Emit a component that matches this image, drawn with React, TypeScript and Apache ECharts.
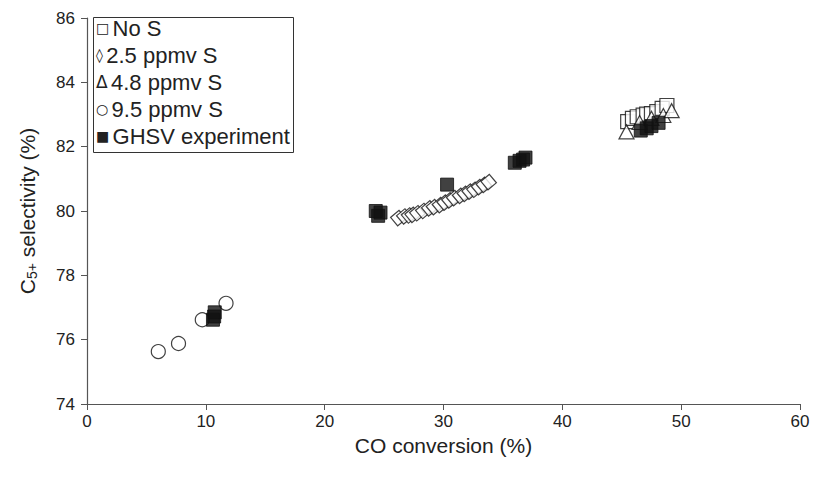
import React, { useEffect, useRef } from "react";
import * as echarts from "echarts";

// CO conversion (%) vs C5+ selectivity (%) for each sulfur level
const noS: number[][] = [
  [45.5, 82.78], [45.9, 82.88], [46.3, 82.93], [46.8, 82.98], [47.1, 83.01],
  [47.5, 83.03], [47.95, 83.09], [48.4, 83.19], [48.8, 83.28],
];
const ppmv25: number[][] = [
  [26.2, 79.78], [26.7, 79.83], [27.1, 79.86], [27.4, 79.88], [27.8, 79.93],
  [28.3, 80.0], [28.8, 80.08], [29.2, 80.12], [29.7, 80.18], [30.1, 80.26],
  [30.5, 80.33], [30.9, 80.4], [31.4, 80.47], [31.8, 80.53], [32.2, 80.6],
  [32.6, 80.66], [33.0, 80.74], [33.4, 80.81], [33.8, 80.9],
];
const ppmv48: number[][] = [
  [45.4, 82.46], [46.5, 82.75], [47.5, 82.88], [48.5, 82.97], [49.2, 83.12],
];
const ppmv95: number[][] = [
  [6.0, 75.63], [7.7, 75.88], [9.7, 76.62], [11.7, 77.13],
];
const ghsv: number[][] = [
  [10.6, 76.62], [10.7, 76.72], [10.75, 76.85],
  [24.3, 80.0], [24.5, 79.85], [24.7, 79.95],
  [30.3, 80.82],
  [36.0, 81.5], [36.4, 81.56], [36.7, 81.6], [36.9, 81.66],
  [46.6, 82.5], [47.1, 82.57], [47.5, 82.64], [48.1, 82.74],
];

const legendSymbols: string[] = ["\u25A1", "\u25CA", "\u0394", "\u25CB", "\u25A0"];
const legendLabels: string[] = [
  "No S",
  "2.5 ppmv S",
  "4.8 ppmv S",
  "9.5 ppmv S",
  "GHSV experiment",
];

const FONT = "Liberation Sans, Arial, sans-serif";
const AXIS_COLOR = "#555";
const TEXT_COLOR = "#222";

export default function App() {
  const ref = useRef<HTMLDivElement>(null);

  useEffect(() => {
    if (!ref.current) return;
    const chart = echarts.init(ref.current, undefined, { renderer: "svg" });

    const hollow = {
      color: "#fff",
      borderColor: "#111",
      borderWidth: 1.2,
    };

    chart.setOption({
      animation: false,
      backgroundColor: "#fff",
      grid: { left: 87, right: 13, top: 18, bottom: 75, outerBoundsMode: "none", containLabel: false },
      xAxis: {
        type: "value",
        min: 0,
        max: 60,
        interval: 10,
        name: "CO conversion (%)",
        nameLocation: "middle",
        nameGap: 28,
        nameTextStyle: { fontFamily: FONT, fontSize: 21, color: TEXT_COLOR },
        axisLine: { show: true, lineStyle: { color: AXIS_COLOR, width: 1.2 } },
        axisTick: { show: true, length: 6, lineStyle: { color: AXIS_COLOR } },
        axisLabel: { fontFamily: FONT, fontSize: 17, color: TEXT_COLOR, margin: 9 },
        splitLine: { show: false },
      },
      yAxis: {
        type: "value",
        min: 74,
        max: 86,
        interval: 2,
        name: "{c|C}{s|5+}{c| selectivity (%)}",
        nameLocation: "middle",
        nameRotate: 90,
        nameGap: 48,
        nameTextStyle: {
          rich: {
            c: { fontFamily: FONT, fontSize: 21, color: TEXT_COLOR },
            s: { fontFamily: FONT, fontSize: 14, color: TEXT_COLOR, verticalAlign: "bottom", padding: [9, 0, 0, 0] },
          },
        },
        axisLine: { show: true, lineStyle: { color: AXIS_COLOR, width: 1.2 } },
        axisTick: { show: true, length: 6, lineStyle: { color: AXIS_COLOR } },
        axisLabel: { fontFamily: FONT, fontSize: 17, color: TEXT_COLOR, margin: 12 },
        splitLine: { show: false },
      },
      series: [
        {
          name: "No S",
          type: "scatter",
          data: noS,
          symbol: "rect",
          symbolSize: 14,
          itemStyle: hollow,
        },
        {
          name: "4.8 ppmv S",
          type: "scatter",
          data: ppmv48,
          symbol: "triangle",
          symbolSize: [15, 14],
          itemStyle: hollow,
        },
        {
          name: "2.5 ppmv S",
          type: "scatter",
          data: ppmv25,
          symbol: "rect",
          symbolSize: 11,
          symbolRotate: 40,
          itemStyle: hollow,
        },
        {
          name: "9.5 ppmv S",
          type: "scatter",
          data: ppmv95,
          symbol: "circle",
          symbolSize: 14,
          itemStyle: hollow,
        },
        {
          name: "GHSV experiment",
          type: "scatter",
          data: ghsv,
          symbol: "rect",
          symbolSize: 13,
          itemStyle: { color: "#111", borderColor: "#111", borderWidth: 1 },
        },
      ],
      graphic: [
        {
          type: "rect",
          left: 93,
          top: 17,
          shape: { width: 200, height: 135 },
          style: { fill: "#fff", stroke: "#333", lineWidth: 1 },
          z: 10,
        },
        ...legendLabels.map((t, i) => ({
          type: "text",
          left: 96,
          top: 17 + i * 27,
          z: 11,
          style: {
            text: `{m|${legendSymbols[i]}} {t|${t}}`,
            rich: {
              m: { fontFamily: "DejaVu Sans, sans-serif", fontSize: i === 2 ? 17 : 14, fill: TEXT_COLOR },
              t: { fontFamily: FONT, fontSize: 22, fill: TEXT_COLOR },
            },
          },
        })),
      ],
    });

    return () => chart.dispose();
  }, []);

  return (
    <div
      ref={ref}
      style={{ position: "absolute", left: 0, top: 0, width: 813, height: 479 }}
    />
  );
}
